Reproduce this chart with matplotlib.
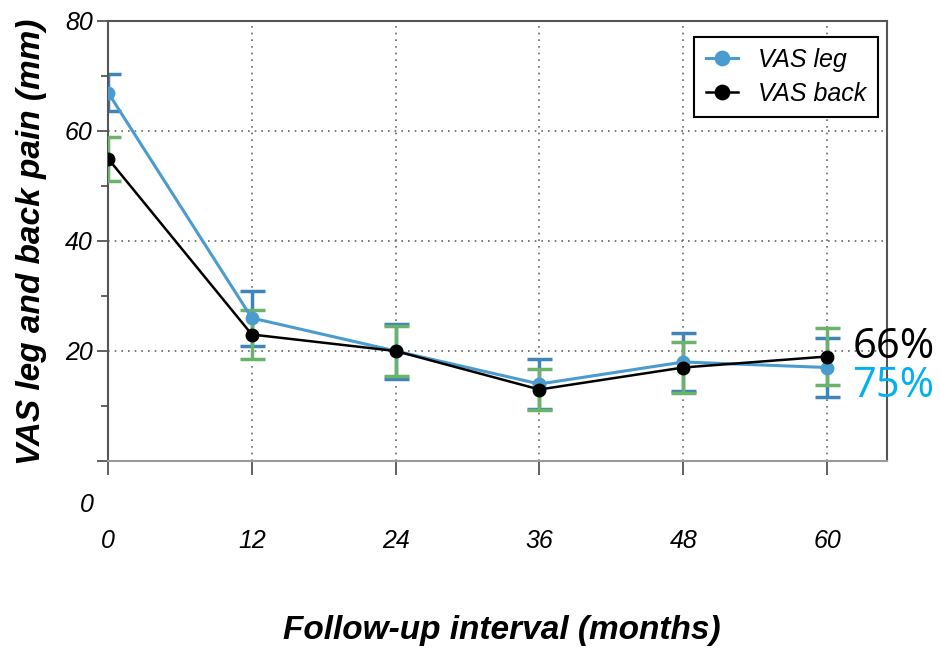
import numpy as np
from matplotlib import pyplot as plt

plt.rcParams['font.family'] = ['Liberation Sans', 'DejaVu Sans']

months = [0, 12, 24, 36, 48, 60]
vas_leg = [67, 26, 20, 14, 18, 17]
vas_leg_err = [3.4, 5.0, 5.0, 4.5, 5.3, 5.4]
vas_back = [55, 23, 20, 13, 17, 19]
vas_back_err = [4.0, 4.4, 4.5, 3.7, 4.6, 5.2]
y_ticks = [0, 20, 40, 60, 80]
y_minor = [10, 30, 50, 70]

blue = '#4a9ccf'
blue_err = '#3f85b8'
green = '#6bb36b'

fig = plt.figure(figsize=(9.4, 6.49), dpi=100)
ax = fig.add_axes([108 / 940, 1 - 461 / 649, (887 - 108) / 940, (461 - 21) / 649])

ax.errorbar(months, vas_leg, yerr=vas_leg_err, fmt='none', ecolor=blue_err,
            elinewidth=2.5, capsize=9, capthick=2.5, zorder=2)
ax.errorbar(months, vas_back, yerr=vas_back_err, fmt='none', ecolor=green,
            elinewidth=2.5, capsize=9, capthick=2.5, zorder=3)
ax.plot(months, vas_leg, color=blue, lw=2.2, marker='o', ms=9, label='VAS leg', zorder=4)
ax.plot(months, vas_back, color='black', lw=1.8, marker='o', ms=9, label='VAS back', zorder=5)

ax.set_xlim(0, 65)
ax.set_ylim(0, 80)
ax.set_xticks(months)
ax.set_xticklabels([str(m) for m in months], fontsize=18, style='italic')
ax.set_yticks(y_ticks)
ax.set_yticklabels([''] + [str(v) for v in y_ticks[1:]], fontsize=18, style='italic')
ax.set_yticks(y_minor, minor=True)
ax.tick_params(axis='y', direction='out', length=8, width=1.3, color='#555555', pad=3)
ax.tick_params(axis='y', which='minor', direction='out', length=5, width=1.3, color='#555555')
ax.tick_params(axis='x', direction='out', length=10, width=1.3, color='#555555', pad=39)
ax.annotate('0', xy=(0, 0), xycoords='data', xytext=(-21, -44), textcoords='offset pixels',
            ha='center', va='center', fontsize=18, style='italic')

ax.grid(True, linestyle=(0, (1, 3)), color='#666666', linewidth=1.2)
for side in ['left', 'top', 'right']:
    ax.spines[side].set_color('#555555')
    ax.spines[side].set_linewidth(1.5)
ax.spines['bottom'].set_color('#9a9a9a')
ax.spines['bottom'].set_linewidth(1.5)

leg = ax.legend(loc='upper right', bbox_to_anchor=(0.988, 0.964), borderaxespad=0,
                prop={'style': 'italic', 'size': 18}, fancybox=False,
                edgecolor='black', framealpha=1, handlelength=1.3,
                borderpad=0.45, labelspacing=0.4, handletextpad=0.8, markerscale=1.15)
leg.get_frame().set_linewidth(1.5)

ax.text(62.1, 20.7, '66%', fontsize=30, color='black', va='center', ha='left',
        family=['Open Sans', 'DejaVu Sans'], clip_on=False)
ax.text(62.1, 13.6, '75%', fontsize=30, color='#00b0f0', va='center', ha='left',
        family=['Open Sans', 'DejaVu Sans'], clip_on=False)

fig.text(32 / 940, 1 - 242 / 649, 'VAS leg and back pain (mm)', rotation=90,
         ha='center', va='center', fontsize=24, weight='bold', style='italic')
fig.text(502 / 940, 1 - 630 / 649, 'Follow-up interval (months)',
         ha='center', va='center', fontsize=24, weight='bold', style='italic')

fig.savefig('out.png', dpi=100)
